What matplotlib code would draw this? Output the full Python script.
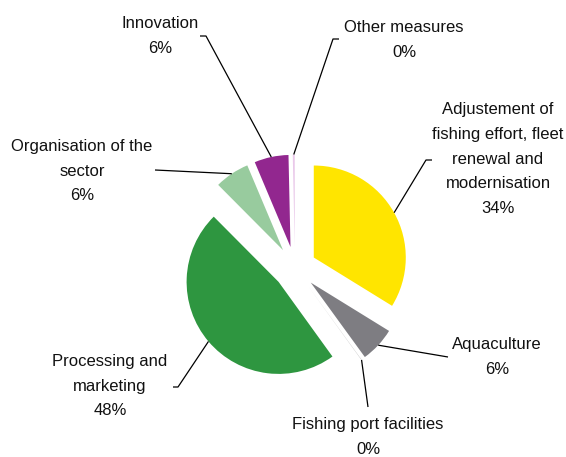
import matplotlib
matplotlib.use("Agg")
import matplotlib.pyplot as plt
import numpy as np

plt.rcParams["font.family"] = ["Liberation Sans", "DejaVu Sans"]

CATEGORIES = [
    "Adjustement of\nfishing effort, fleet\nrenewal and\nmodernisation",
    "Aquaculture",
    "Fishing port facilities",
    "Processing and\nmarketing",
    "Organisation of the\nsector",
    "Innovation",
    "Other measures",
]
SHARES = [33.8, 6.2, 0.05, 47.5, 6.1, 6.0, 0.35]
COLORS = ["#FFE500", "#7E7D82", "#B0B0B0", "#2E9640", "#98CB9E", "#92278F", "#EAC8EA"]

W, H = 566, 457

# label text centre and start of the leader line (pixels from top-left),
# plus the length of the short horizontal tick at the text end
LABEL_POS = [(498, 159), (497, 357), (368, 437), (110, 386), (82, 171), (160, 36), (404, 40)]
LEADER_START = [(432, 160), (448, 357), (368, 407), (173, 387), (155, 170), (200, 36), (339, 39)]
LEADER_TICK = [-6, 0, 0, 5, 0, 6, -6]

fig = plt.figure(figsize=(W / 100, H / 100), dpi=100)
ax = fig.add_axes([0, 0, 1, 1])

radius = 92
wedges, _ = ax.pie(
    SHARES,
    colors=COLORS,
    startangle=90,
    counterclock=False,
    radius=radius,
    center=(295, H - 268),
    explode=[21.5] * len(SHARES),
    wedgeprops=dict(linewidth=0),
)

for w, label, share, (tx, ty), (sx, sy), tick in zip(
    wedges, CATEGORIES, SHARES, LABEL_POS, LEADER_START, LEADER_TICK
):
    # leader ends on the middle of the slice's outer arc
    mid = np.deg2rad((w.theta1 + w.theta2) / 2)
    cx, cy = w.center
    ex, ey = cx + w.r * np.cos(mid), cy + w.r * np.sin(mid)
    xs = [sx, sx + tick, ex] if tick else [sx, ex]
    ys = [H - sy, H - sy, ey] if tick else [H - sy, ey]
    ax.plot(xs, ys, color="black", lw=0.9, solid_capstyle="butt")
    ax.text(tx, H - ty, f"{label}\n{share:.0f}%", ha="center", va="center",
            fontsize=12, linespacing=1.8, color="#111111")

ax.set_xlim(0, W)
ax.set_ylim(0, H)
ax.set_aspect("equal")
ax.axis("off")

fig.savefig("out.png", dpi=100)
